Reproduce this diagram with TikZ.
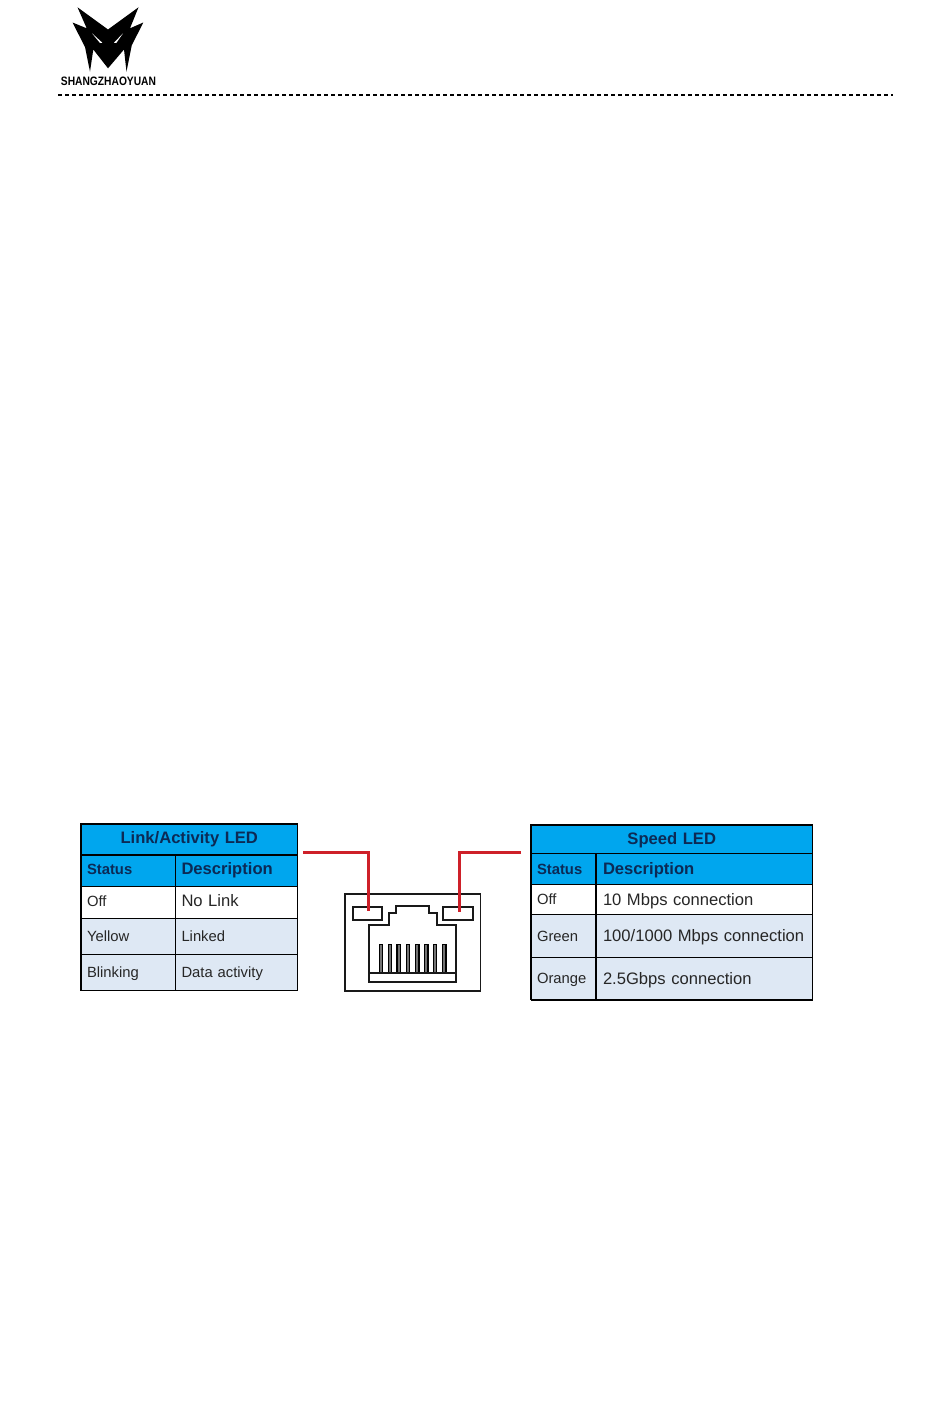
\documentclass[tikz,border=0pt]{standalone}
\usepackage{fontspec}
\setmainfont{Liberation Sans}
\usetikzlibrary{positioning}
\definecolor{headblue}{HTML}{00A6EE}
\definecolor{rowblue}{HTML}{DEE8F4}
\definecolor{headtxt}{HTML}{0C2A55}
\definecolor{bodytxt}{HTML}{262626}
\definecolor{wirered}{HTML}{CE2029}
\newcommand{\smalltxt}{\fontsize{14.8}{17}\selectfont}
\newcommand{\bigtxt}{\fontsize{16.6}{19}\selectfont}
\tikzset{
  cell/.style={rectangle,draw=black,line width=1.2pt,outer sep=0pt,inner xsep=6pt,inner ysep=0pt,
    align=left,anchor=north west,text=bodytxt,font=\smalltxt,text height=11pt,text depth=3.5pt},
  head/.style={cell,fill=headblue,text=headtxt,font=\bigtxt\bfseries},
  title/.style={head,align=center},
  rowb/.style={cell,fill=rowblue},
  lowered/.style={text height=13pt},
  lcola/.style={minimum width=94.5pt,text width=82.5pt},
  lcolb/.style={minimum width=122pt,text width=110pt},
  rcola/.style={minimum width=65pt,text width=53pt,text height=14pt},
  rcolb/.style={minimum width=216.5pt,text width=202.5pt,inner xsep=7pt,text height=14.5pt},
  jack/.style={draw=black!90,line width=1.8pt},
  pin/.style={draw=black,fill=black!55,line width=1.2pt,minimum width=3.5pt,minimum height=28pt,
    inner sep=0pt,anchor=south},
  wire/.style={draw=wirered,line width=3.1pt},
}
\begin{document}
\begin{tikzpicture}[x=1pt,y=-1pt]
  \useasboundingbox (0,0) rectangle (950,1408);
  % logo
  \fill[black] (77.5,7.3) -- (108,29.5) -- (138.5,7.3) -- (130,28.3) -- (143.3,22.5) -- (131.7,45.5)
    -- (126.5,71.7) -- (124,49.5) -- (108,68.3) -- (93.3,49.5) -- (90,71.7) -- (85,47) -- (72.5,22.5) -- (86.7,28.3) -- cycle;
  \fill[white] (92,33.3) -- (102.3,42.7) -- (100,43) -- cycle;
  \fill[white] (123,33.3) -- (114,42.7) -- (116.3,43) -- cycle;
  \node[inner sep=0pt,xscale=0.84,font=\fontsize{12.2}{14}\selectfont\bfseries] (logotxt) at (108.5,81.7) {SHANGZHAOYUAN};
  \draw[black,line width=1.3pt,dash pattern=on 3.5pt off 3.5pt] (58,95) -- (893,95);

  % link/activity table
  \node[title,minimum width=216.5pt,text width=204.5pt,minimum height=31pt] (lt) at (81,824) {Link/Activity LED};
  \node[head,lcola,minimum height=31.5pt] (ls) at (lt.south west) {\smalltxt Status};
  \node[head,lcolb,minimum height=31.5pt] (ld) at (ls.north east) {Description};
  \node[cell,lcola,minimum height=32pt] (l1a) at (ls.south west) {Off};
  \node[cell,lcolb,minimum height=32pt,font=\bigtxt] (l1b) at (l1a.north east) {No Link};
  \node[rowb,lcola,lowered,minimum height=36pt] (l2a) at (l1a.south west) {Yellow};
  \node[rowb,lcolb,lowered,minimum height=36pt] (l2b) at (l2a.north east) {Linked};
  \node[rowb,lcola,lowered,minimum height=36pt] (l3a) at (l2a.south west) {Blinking};
  \node[rowb,lcolb,lowered,minimum height=36pt] (l3b) at (l3a.north east) {Data activity};

  % speed table
  \node[title,lowered,minimum width=281.5pt,text width=269.5pt,minimum height=28.5pt] (rt) at (531,825) {Speed LED};
  \node[head,rcola,minimum height=31pt] (rs) at (rt.south west) {\smalltxt Status};
  \node[head,rcolb,minimum height=31pt] (rd) at (rs.north east) {Description};
  \node[cell,rcola,minimum height=30pt] (r1a) at (rs.south west) {Off};
  \node[cell,rcolb,minimum height=30pt,font=\bigtxt] (r1b) at (r1a.north east) {10 Mbps connection};
  \node[rowb,rcola,minimum height=43pt] (r2a) at (r1a.south west) {Green};
  \node[rowb,rcolb,minimum height=43pt,font=\bigtxt] (r2b) at (r2a.north east) {100/1000 Mbps connection};
  \node[rowb,rcola,minimum height=42pt] (r3a) at (r2a.south west) {Orange};
  \node[rowb,rcolb,minimum height=42pt,font=\bigtxt] (r3b) at (r3a.north east) {2.5Gbps connection};
  \draw[black,line width=2pt] (r3a.south west) -- (r3b.south east);

  % rj45 socket
  \node[jack,anchor=north west,minimum width=135.5pt,minimum height=97pt,inner sep=0pt,outer sep=0pt] (rj) at (345,893.7) {};
  \node[jack,anchor=north west,minimum width=29.5pt,minimum height=13.3pt,inner sep=0pt,outer sep=0pt] (ledl) at (352.8,907) {};
  \node[jack,anchor=north west,minimum width=29.5pt,minimum height=13.3pt,inner sep=0pt,outer sep=0pt] (ledr) at (443.3,907) {};
  \foreach \x [count=\i] in {381,390,398.7,408,417.3,426.3,435,444.3}
    \node[pin] (p\i) at (\x,973.3) {};
  \draw[jack] (369,981.7) -- (369,925.3) -- (388.7,925.3) -- (388.7,913.3) -- (396,913.3) -- (396,905.7)
    -- (429,905.7) -- (429,913.3) -- (436.7,913.3) -- (436.7,925.3) -- (456,925.3) -- (456,981.7) -- cycle;
  \draw[jack] (369,973.3) -- (456,973.3);

  % wires
  \coordinate (wl) at (303.3,852.3);
  \coordinate (wr) at (521,852.3);
  \draw[wire] (wl) -- (368.7,852.3) -- (368.7,911);
  \draw[wire] (wr) -- (459.3,852.3) -- (459.3,912);
\end{tikzpicture}
\end{document}
